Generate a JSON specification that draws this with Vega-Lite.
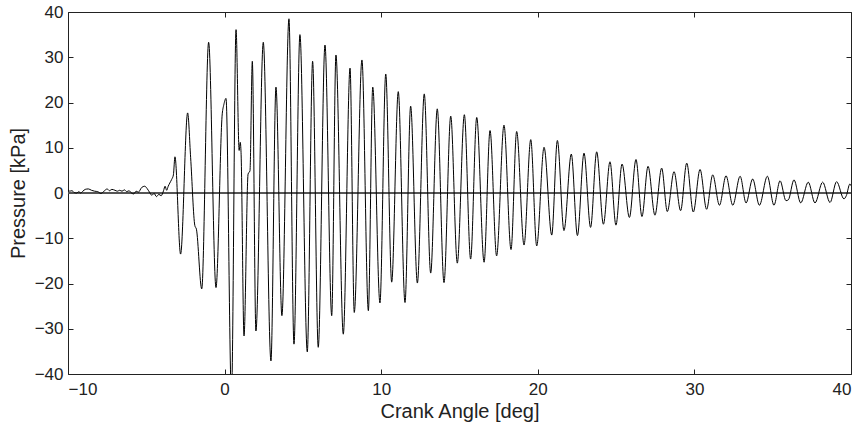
{
  "$schema": "https://vega.github.io/schema/vega-lite/v6.json",
  "autosize": {"type": "none"},
  "width": 783,
  "height": 362,
  "padding": {"left": 68, "top": 12, "right": 12, "bottom": 59},
  "background": "white",
  "config": {
    "view": {"stroke": "#222", "strokeWidth": 1},
    "axis": {
      "grid": false,
      "domain": false,
      "tickColor": "#222",
      "tickSize": -5,
      "labelFont": "Liberation Sans",
      "labelFontSize": 17,
      "labelColor": "#222",
      "titleFont": "Liberation Sans",
      "titleFontSize": 20,
      "titleFontWeight": "normal",
      "titleColor": "#222"
    }
  },
  "data": {
    "values": [
      {"a": -10.0, "p": 0.8}, {"a": -9.9, "p": 0.4}, {"a": -9.75, "p": 0.5}, {"a": -9.6, "p": 0.1},
      {"a": -9.45, "p": 0.0}, {"a": -9.3, "p": 0.3}, {"a": -9.2, "p": 0.0}, {"a": -9.05, "p": 0.4},
      {"a": -8.9, "p": 0.8}, {"a": -8.7, "p": 0.9}, {"a": -8.5, "p": 0.6}, {"a": -8.3, "p": 0.4},
      {"a": -8.1, "p": 0.3}, {"a": -7.9, "p": -0.1}, {"a": -7.7, "p": 0.4}, {"a": -7.5, "p": 0.9},
      {"a": -7.35, "p": 0.5}, {"a": -7.2, "p": 0.8}, {"a": -7.0, "p": 0.6}, {"a": -6.85, "p": 0.4},
      {"a": -6.7, "p": 0.6}, {"a": -6.55, "p": 0.4}, {"a": -6.4, "p": 0.7}, {"a": -6.25, "p": 0.3},
      {"a": -6.1, "p": 0.5}, {"a": -5.95, "p": 0.0}, {"a": -5.8, "p": -0.2}, {"a": -5.65, "p": 0.4},
      {"a": -5.5, "p": 0.2}, {"a": -5.3, "p": 1.2}, {"a": -5.1, "p": 1.5}, {"a": -4.95, "p": 1.0},
      {"a": -4.8, "p": 0.2}, {"a": -4.65, "p": -0.5}, {"a": -4.5, "p": -0.1}, {"a": -4.35, "p": -0.8},
      {"a": -4.2, "p": -0.3}, {"a": -4.05, "p": -0.6}, {"a": -3.9, "p": 0.5}, {"a": -3.8, "p": 1.5},
      {"a": -3.7, "p": 0.6}, {"a": -3.6, "p": 1.5}, {"a": -3.5, "p": 2.2}, {"a": -3.38, "p": 3.0},
      {"a": -3.27, "p": 4.0}, {"a": -3.17, "p": 8.0}, {"a": -2.81, "p": -13.5}, {"a": -2.36, "p": 17.7},
      {"a": -2.17, "p": 7.9}, {"a": -1.9, "p": -7.2}, {"a": -1.8, "p": -8.0}, {"a": -1.46, "p": -21.2},
      {"a": -1.02, "p": 33.3}, {"a": -0.55, "p": -20.9}, {"a": -0.15, "p": 17.5}, {"a": -0.05, "p": 19.5},
      {"a": 0.09, "p": 20.9}, {"a": 0.44, "p": -45}, {"a": 0.73, "p": 36.1}, {"a": 0.93, "p": 9.4},
      {"a": 1.0, "p": 11.2}, {"a": 1.05, "p": 9.0}, {"a": 1.24, "p": -31.6}, {"a": 1.5, "p": 4.2},
      {"a": 1.62, "p": 4.9}, {"a": 1.77, "p": 29.1}, {"a": 2.0, "p": -30.5}, {"a": 2.47, "p": 33.3},
      {"a": 2.96, "p": -37.1}, {"a": 3.28, "p": 23.4}, {"a": 3.66, "p": -27.1}, {"a": 4.11, "p": 38.5},
      {"a": 4.43, "p": -33.4}, {"a": 4.81, "p": 35.0}, {"a": 5.28, "p": -35.1}, {"a": 5.62, "p": 29.1},
      {"a": 5.98, "p": -34.1}, {"a": 6.41, "p": 32.7}, {"a": 6.84, "p": -27.1}, {"a": 7.11, "p": 30.5},
      {"a": 7.58, "p": -31.2}, {"a": 8.01, "p": 27.6}, {"a": 8.28, "p": -26.4}, {"a": 8.77, "p": 29.4},
      {"a": 9.18, "p": -26.0}, {"a": 9.46, "p": 23.4}, {"a": 9.92, "p": -24.3}, {"a": 10.29, "p": 26.3},
      {"a": 10.67, "p": -19.7}, {"a": 11.09, "p": 22.4}, {"a": 11.52, "p": -24.2}, {"a": 11.88, "p": 19.2},
      {"a": 12.31, "p": -19.9}, {"a": 12.75, "p": 21.9}, {"a": 13.16, "p": -17.7}, {"a": 13.58, "p": 18.6},
      {"a": 14.01, "p": -19.8}, {"a": 14.44, "p": 17.0}, {"a": 14.86, "p": -15.5}, {"a": 15.31, "p": 17.3},
      {"a": 15.71, "p": -14.6}, {"a": 16.1, "p": 16.7}, {"a": 16.57, "p": -15.3}, {"a": 16.95, "p": 13.8},
      {"a": 17.37, "p": -13.9}, {"a": 17.84, "p": 15.0}, {"a": 18.29, "p": -12.5}, {"a": 18.65, "p": 13.6},
      {"a": 19.12, "p": -11.5}, {"a": 19.55, "p": 11.8}, {"a": 19.93, "p": -11.7}, {"a": 20.4, "p": 10.1},
      {"a": 20.89, "p": -9.3}, {"a": 21.25, "p": 11.6}, {"a": 21.67, "p": -8.3}, {"a": 22.14, "p": 8.6},
      {"a": 22.53, "p": -9.4}, {"a": 22.95, "p": 8.8}, {"a": 23.37, "p": -7.6}, {"a": 23.76, "p": 9.1},
      {"a": 24.19, "p": -6.9}, {"a": 24.61, "p": 6.9}, {"a": 24.99, "p": -7.1}, {"a": 25.38, "p": 6.4},
      {"a": 25.85, "p": -5.4}, {"a": 26.27, "p": 7.4}, {"a": 26.65, "p": -5.2}, {"a": 27.04, "p": 5.9},
      {"a": 27.48, "p": -4.9}, {"a": 27.91, "p": 5.5}, {"a": 28.27, "p": -4.1}, {"a": 28.7, "p": 4.7},
      {"a": 29.12, "p": -3.9}, {"a": 29.51, "p": 6.6}, {"a": 29.93, "p": -4.2}, {"a": 30.36, "p": 5.2},
      {"a": 30.78, "p": -3.6}, {"a": 31.17, "p": 4.0}, {"a": 31.6, "p": -2.7}, {"a": 32.02, "p": 3.8},
      {"a": 32.45, "p": -2.7}, {"a": 32.92, "p": 3.7}, {"a": 33.3, "p": -2.2}, {"a": 33.72, "p": 3.1},
      {"a": 34.15, "p": -2.7}, {"a": 34.66, "p": 3.7}, {"a": 35.08, "p": -2.7}, {"a": 35.47, "p": 2.7},
      {"a": 35.85, "p": -1.7}, {"a": 36.0, "p": -1.5}, {"a": 36.36, "p": 2.9}, {"a": 36.79, "p": -2.2},
      {"a": 37.27, "p": 2.4}, {"a": 37.7, "p": -2.2}, {"a": 38.19, "p": 2.4}, {"a": 38.66, "p": -2.1},
      {"a": 39.08, "p": 2.5}, {"a": 39.55, "p": -1.3}, {"a": 39.7, "p": -0.6}, {"a": 39.93, "p": 2.0},
      {"a": 40.0, "p": 1.6}
    ]
  },
  "layer": [
    {
      "mark": {"type": "rule", "color": "#555", "strokeWidth": 0.8},
      "encoding": {
        "y": {"datum": 0, "type": "quantitative", "scale": {"domain": [-40, 40], "nice": false}, "axis": null}
      }
    },
    {
      "mark": {"type": "line", "color": "#000", "strokeWidth": 1, "interpolate": "monotone", "clip": true},
      "encoding": {
        "x": {
          "field": "a", "type": "quantitative",
          "scale": {"domain": [-10, 40], "nice": false, "zero": false},
          "axis": {"orient": "bottom", "values": [-10, 0, 10, 20, 30, 40], "title": "Crank Angle [deg]", "labelPadding": 12, "titlePadding": 4}
        },
        "y": {
          "field": "p", "type": "quantitative",
          "scale": {"domain": [-40, 40], "nice": false},
          "axis": {"orient": "left", "values": [-40, -30, -20, -10, 0, 10, 20, 30, 40], "title": "Pressure [kPa]", "labelPadding": 10, "titlePadding": 6}
        }
      }
    },
    {
      "mark": {"type": "point", "opacity": 0},
      "encoding": {
        "x": {
          "field": "a", "type": "quantitative",
          "scale": {"domain": [-10, 40], "nice": false, "zero": false},
          "axis": {"orient": "top", "values": [-10, 0, 10, 20, 30, 40], "labels": false, "title": null}
        },
        "y": {
          "field": "p", "type": "quantitative",
          "scale": {"domain": [-40, 40], "nice": false},
          "axis": {"orient": "right", "values": [-40, -30, -20, -10, 0, 10, 20, 30, 40], "labels": false, "title": null}
        }
      }
    }
  ],
  "resolve": {"axis": {"x": "independent", "y": "independent"}}
}
